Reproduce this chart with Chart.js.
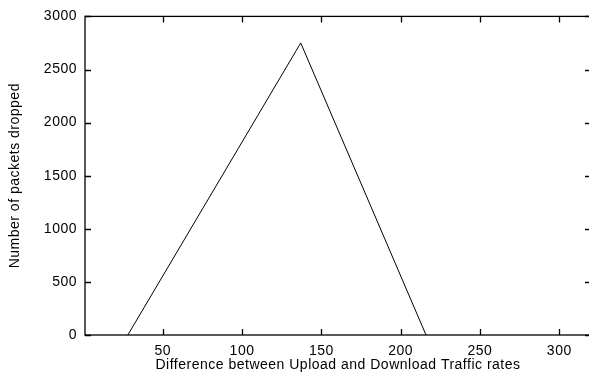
<!DOCTYPE html>
<html>
<head>
<meta charset="utf-8">
<script src="https://cdn.jsdelivr.net/npm/chart.js@4/dist/chart.umd.min.js"></script>
<style>
  html, body { margin: 0; padding: 0; background: #fff; overflow: hidden; }
  #chart { display: block; }
</style>
</head>
<body>
<canvas id="chart" width="592" height="374"></canvas>
<script>
// traffic rate difference vs dropped packets
const rateDiff = [28, 137, 216];
const dropped = [0, 2750, 0];
const xTicks = [50, 100, 150, 200, 250, 300];
const yTicks = [0, 500, 1000, 1500, 2000, 2500, 3000];

const FONT = { family: "'Liberation Sans', Arial, sans-serif", size: 14 };

// gnuplot style box with inward ticks on all four sides
const framePlugin = {
    id: 'frame',
    beforeDraw(chart) {
        chart.ctx.letterSpacing = '0.5px';
    },
    afterDraw(chart) {
        const ctx = chart.ctx;
        const a = chart.chartArea;
        const xs = chart.scales.x, ys = chart.scales.y;
        const len = 6;
        ctx.save();
        ctx.strokeStyle = '#000';
        ctx.lineWidth = 1.3;
        ctx.strokeRect(a.left, a.top, a.right - a.left, a.bottom - a.top);
        ctx.beginPath();
        xTicks.forEach(v => {
            const px = Math.round(xs.getPixelForValue(v)) + 0.5;
            ctx.moveTo(px, a.bottom); ctx.lineTo(px, a.bottom - len);
            ctx.moveTo(px, a.top); ctx.lineTo(px, a.top + len);
        });
        yTicks.forEach(v => {
            const py = Math.round(ys.getPixelForValue(v)) + 0.5;
            ctx.moveTo(a.left, py); ctx.lineTo(a.left + len, py);
            ctx.moveTo(a.right, py); ctx.lineTo(a.right - len, py);
        });
        ctx.stroke();
        ctx.restore();
    }
};

new Chart(document.getElementById('chart'), {
    type: 'scatter',
    data: {
        datasets: [{
            data: rateDiff.map((x, i) => ({ x: x, y: dropped[i] })),
            showLine: true,
            borderColor: '#000',
            borderWidth: 1,
            pointRadius: 0,
            tension: 0
        }]
    },
    options: {
        responsive: false,
        animation: false,
        devicePixelRatio: 1,
        layout: { padding: { top: 14, right: 1, left: 0, bottom: 0 } },
        plugins: { legend: { display: false }, tooltip: { enabled: false } },
        scales: {
            x: {
                type: 'linear',
                min: 1,
                max: 320,
                afterBuildTicks: s => { s.ticks = xTicks.map(v => ({ value: v })); },
                afterFit: s => { s.height = 39; },
                grid: { display: false, drawTicks: false },
                border: { display: false },
                ticks: { color: '#000', font: FONT, padding: 8, maxRotation: 0, callback: v => String(v) },
                title: {
                    display: true,
                    text: 'Difference between Upload and Download Traffic rates',
                    color: '#000',
                    font: FONT,
                    padding: { top: 0, bottom: 0 }
                }
            },
            y: {
                min: 0,
                max: 3000,
                afterBuildTicks: s => { s.ticks = yTicks.map(v => ({ value: v })); },
                afterFit: s => { s.width = 85; },
                grid: { display: false, drawTicks: false },
                border: { display: false },
                ticks: { color: '#000', font: FONT, padding: 8, callback: v => String(v) },
                title: {
                    display: true,
                    text: 'Number of packets dropped',
                    color: '#000',
                    font: FONT,
                    padding: { top: 7, bottom: 0 }
                }
            }
        }
    },
    plugins: [framePlugin]
});
</script>
</body>
</html>
